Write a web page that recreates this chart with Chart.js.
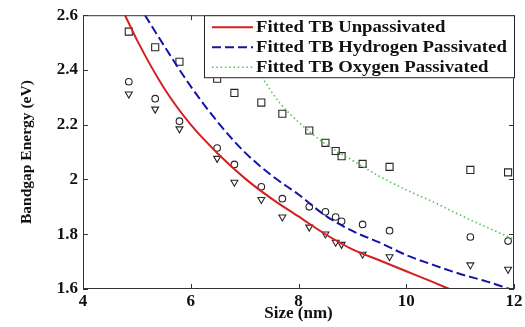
<!DOCTYPE html>
<html>
<head>
<meta charset="utf-8">
<script src="https://cdn.jsdelivr.net/npm/chart.js@4.4.0/dist/chart.umd.min.js"></script>
<style>
html,body{margin:0;padding:0;background:#fff;}
canvas{display:block;}
</style>
</head>
<body>
<canvas id="c" width="525" height="327"></canvas>
<script>
// ---- data ----
const sizes = [4.85, 5.34, 5.79, 6.49, 6.81, 7.31, 7.70, 8.20, 8.50, 8.69, 8.80, 9.19, 9.69, 11.19, 11.89];
const squareEnergy   = [2.540, 2.483, 2.430, 2.368, 2.316, 2.281, 2.240, 2.179, 2.134, 2.104, 2.085, 2.057, 2.046, 2.035, 2.026];
const circleEnergy   = [2.357, 2.295, 2.213, 2.115, 2.055, 1.973, 1.930, 1.900, 1.882, 1.863, 1.847, 1.836, 1.813, 1.790, 1.775];
const triangleEnergy = [2.312, 2.257, 2.185, 2.077, 1.990, 1.927, 1.863, 1.826, 1.801, 1.771, 1.763, 1.727, 1.718, 1.688, 1.672];

const fitUnpassX = [4.78, 5.0, 5.5, 6.0, 6.5, 7.0, 7.5, 8.0, 8.5, 9.0, 9.5, 10.0, 10.5, 10.8];
const fitUnpassY = [2.60, 2.51, 2.335, 2.20, 2.095, 2.005, 1.93, 1.865, 1.80, 1.745, 1.705, 1.665, 1.625, 1.60];

const fitHydroX = [5.15, 5.5, 6.0, 6.5, 7.0, 7.5, 8.0, 8.5, 9.0, 9.5, 10.0, 10.5, 11.0, 11.5, 11.92];
const fitHydroY = [2.60, 2.49, 2.34, 2.21, 2.10, 2.015, 1.945, 1.868, 1.812, 1.77, 1.724, 1.688, 1.655, 1.627, 1.60];

const fitOxyX = [6.6, 7.0, 7.35, 7.65, 8.0, 8.5, 9.0, 9.5, 10.0, 10.5, 11.0, 11.5, 12.0];
const fitOxyY = [2.60, 2.47, 2.365, 2.28, 2.21, 2.13, 2.07, 2.012, 1.962, 1.918, 1.87, 1.825, 1.782];

const xTicks = [4, 6, 8, 10, 12];
const xTickLabels = ['4', '6', '8', '10', '12'];
const yTicks = [1.6, 1.8, 2.0, 2.2, 2.4, 2.6];
const yTickLabels = ['1.6', '1.8', '2', '2.2', '2.4', '2.6'];

const legendLabels = ['Fitted TB Unpassivated', 'Fitted TB Hydrogen Passivated', 'Fitted TB Oxygen Passivated'];
const xTitle = 'Size (nm)';
const yTitle = 'Bandgap Energy (eV)';

// ---- helpers ----
const pts = (xs, ys) => xs.map((x, i) => ({x: x, y: ys[i]}));
const SERIF = '"Liberation Serif", "Times New Roman", serif';

const frame = {
  id: 'frame',
  afterDatasetsDraw(chart) {
    const {ctx, chartArea: a, scales: {x, y}} = chart;
    ctx.save();
    ctx.strokeStyle = '#333';
    ctx.lineWidth = 1;
    ctx.strokeRect(a.left + 0.5, a.top + 0.5, a.right - a.left - 1, a.bottom - a.top - 1);
    ctx.beginPath();
    x.ticks.forEach(t => {
      const px = Math.round(x.getPixelForValue(t.value)) + 0.5;
      ctx.moveTo(px, a.bottom); ctx.lineTo(px, a.bottom - 5);
      ctx.moveTo(px, a.top); ctx.lineTo(px, a.top + 5);
    });
    y.ticks.forEach(t => {
      const py = Math.round(y.getPixelForValue(t.value)) + 0.5;
      ctx.moveTo(a.left, py); ctx.lineTo(a.left + 5, py);
      ctx.moveTo(a.right, py); ctx.lineTo(a.right - 5, py);
    });
    ctx.stroke();
    ctx.restore();
  },
  afterDraw(chart) {
    const {ctx, chartArea: a} = chart;
    const w = 311, h = 63;
    const L = a.right + 1 - w, T = a.top;
    ctx.save();
    ctx.fillStyle = '#fff';
    ctx.fillRect(L, T, w, h);
    ctx.strokeStyle = '#222';
    ctx.lineWidth = 1;
    ctx.strokeRect(L + 0.5, T + 0.5, w - 1, h - 1);
    for (let i = 0; i < 3; i++) {
      const ds = chart.data.datasets[i];
      const cy = T + 12 + i * 20;
      ctx.beginPath();
      ctx.strokeStyle = ds.borderColor;
      ctx.lineWidth = ds.borderWidth;
      ctx.setLineDash(ds.borderDash || []);
      ctx.moveTo(L + 8, cy);
      ctx.lineTo(L + 49, cy);
      ctx.stroke();
      ctx.setLineDash([]);
      ctx.save();
      ctx.translate(L + 52, cy + 1);
      ctx.scale(1.17, 1);
      ctx.font = 'bold 16px ' + SERIF;
      ctx.textBaseline = 'middle';
      ctx.textAlign = 'left';
      ctx.fillStyle = '#111';
      ctx.fillText(ds.label, 0, 0);
      ctx.restore();
    }
    ctx.restore();
  }
};

const markerBase = {
  showLine: false,
  borderColor: '#262626',
  backgroundColor: 'rgba(0,0,0,0)',
  borderWidth: 1.1
};

new Chart(document.getElementById('c'), {
  type: 'scatter',
  data: {
    datasets: [
      {label: legendLabels[0], data: pts(fitUnpassX, fitUnpassY), showLine: true, borderColor: '#d42020', borderWidth: 2, pointRadius: 0, cubicInterpolationMode: 'monotone', fill: false},
      {label: legendLabels[1], data: pts(fitHydroX, fitHydroY), showLine: true, borderColor: '#1414a8', borderWidth: 2, borderDash: [9, 4], pointRadius: 0, cubicInterpolationMode: 'monotone', fill: false},
      {label: legendLabels[2], data: pts(fitOxyX, fitOxyY), showLine: true, borderColor: '#52c452', borderWidth: 1.6, borderDash: [1.5, 2.8], pointRadius: 0, cubicInterpolationMode: 'monotone', fill: false},
      Object.assign({label: 'Squares', data: pts(sizes, squareEnergy), pointStyle: 'rect', pointRadius: 5}, markerBase),
      Object.assign({label: 'Circles', data: pts(sizes, circleEnergy), pointStyle: 'circle', pointRadius: 3.3}, markerBase),
      Object.assign({label: 'Triangles', data: pts(sizes, triangleEnergy), pointStyle: 'triangle', rotation: 180, pointRadius: 4}, markerBase)
    ]
  },
  options: {
    responsive: false,
    animation: false,
    layout: {padding: {left: 0, right: 11, top: 15, bottom: 0}},
    plugins: {legend: {display: false}, tooltip: {enabled: false}},
    scales: {
      x: {
        type: 'linear', min: 4, max: 12,
        grid: {display: false, drawTicks: false},
        border: {display: false},
        afterBuildTicks: s => { s.ticks = xTicks.map(v => ({value: v})); },
        afterFit: s => { s.height = 38; },
        ticks: {
          padding: 2, color: '#111',
          font: {family: SERIF, size: 17, weight: 'bold'},
          callback: (v) => xTickLabels[xTicks.indexOf(v)]
        },
        title: {display: true, text: xTitle, color: '#111', font: {family: SERIF, size: 17, weight: 'bold'}, padding: {top: 0, bottom: 3}}
      },
      y: {
        type: 'linear', min: 1.6, max: 2.6,
        grid: {display: false, drawTicks: false},
        border: {display: false},
        afterBuildTicks: s => { s.ticks = yTicks.map(v => ({value: v})); },
        afterFit: s => { s.width = 83; },
        ticks: {
          padding: 5, color: '#111',
          font: {family: SERIF, size: 17, weight: 'bold'},
          callback: (v) => yTickLabels[yTicks.findIndex(t => Math.abs(t - v) < 1e-9)]
        },
        title: {display: true, text: yTitle, color: '#111', font: {family: SERIF, size: 15.5, weight: 'bold'}, padding: {top: 18, bottom: 0}}
      }
    }
  },
  plugins: [frame]
});
</script>
</body>
</html>
